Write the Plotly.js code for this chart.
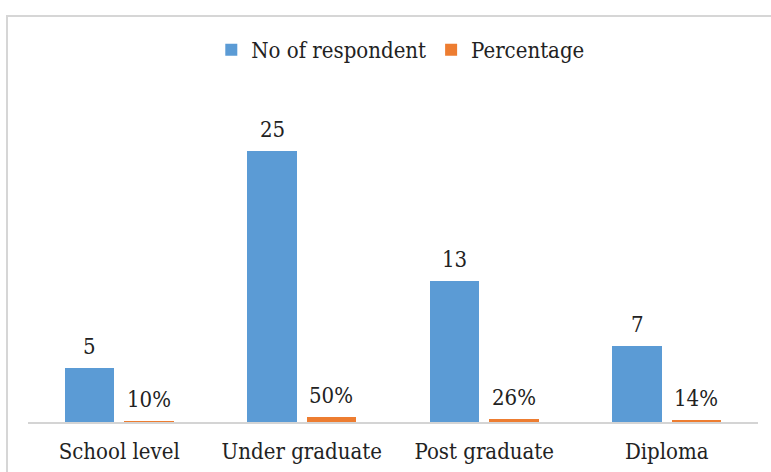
<!DOCTYPE html>
<html>
<head>
<meta charset="utf-8">
<script src="https://cdn.plot.ly/plotly-3.0.1.min.js"></script>
<style>
  html, body { margin: 0; padding: 0; background: #ffffff; overflow: hidden; }
  #frame {
    position: absolute; left: 6px; top: 15px;
    width: 790px; height: 480px;
    border: 2px solid #d6d6d6;
    background: #ffffff;
    overflow: hidden;
  }
  #chart { width: 770px; height: 460px; }
</style>
</head>
<body>
<div id="frame"><div id="chart"></div></div>
<script>
// Respondents by education level
const categories = ['School level', 'Under graduate', 'Post graduate', 'Diploma'];
const respondents = [5, 25, 13, 7];
const percentage = [0.10, 0.50, 0.26, 0.14];

const BLUE = '#5B9BD5';
const ORANGE = '#ED7D31';
const TEXT = '#222222';
const SERIF_C = 'DejaVu Serif Condensed, DejaVu Serif';

const barWidth = 0.271;

const traces = [
  {
    type: 'bar', name: 'No of respondent',
    x: categories, y: respondents,
    marker: { color: BLUE },
    width: barWidth, offset: -0.298,
    hoverinfo: 'x+y'
  },
  {
    type: 'bar', name: 'Percentage',
    x: categories, y: percentage,
    marker: { color: ORANGE },
    width: barWidth, offset: 0.027,
    hoverinfo: 'x+y'
  }
];

// value labels above each bar
const fmtPct = v => Math.round(v * 100) + '%';
const annotations = [];
categories.forEach((c, i) => {
  annotations.push({
    x: c, y: respondents[i], xref: 'x', yref: 'y',
    text: String(respondents[i]), showarrow: false,
    xanchor: 'center', yanchor: 'bottom', xshift: -29.7, yshift: 7,
    font: { family: SERIF_C, size: 22, color: TEXT }
  });
  annotations.push({
    x: c, y: percentage[i], xref: 'x', yref: 'y',
    text: fmtPct(percentage[i]), showarrow: false,
    xanchor: 'center', yanchor: 'bottom', xshift: 29.7, yshift: 7,
    font: { family: SERIF_C, size: 22, color: TEXT }
  });
});

const layout = {
  width: 770, height: 460,
  margin: { l: 20, r: 20, t: 74, b: 55, pad: 0 },
  paper_bgcolor: '#ffffff', plot_bgcolor: '#ffffff',
  font: { family: SERIF_C, size: 22, color: TEXT },
  showlegend: true,
  legend: {
    orientation: 'h', x: 0.51, xanchor: 'center', y: 1.145, yanchor: 'middle',
    font: { family: SERIF_C, size: 22, color: TEXT },
    itemwidth: 30, traceorder: 'normal'
  },
  xaxis: {
    type: 'category',
    showgrid: false, zeroline: false,
    showline: true, linecolor: '#d4d4d4', linewidth: 1.5,
    ticks: '', tickfont: { family: SERIF_C, size: 22, color: TEXT },
    ticklabelstandoff: 9
  },
  yaxis: {
    range: [0, 30], visible: false, showgrid: false, zeroline: false, fixedrange: true
  },
  bargap: 0, bargroupgap: 0,
  annotations: annotations
};

Plotly.newPlot('chart', traces, layout, { displayModeBar: false, staticPlot: true });
</script>
</body>
</html>
